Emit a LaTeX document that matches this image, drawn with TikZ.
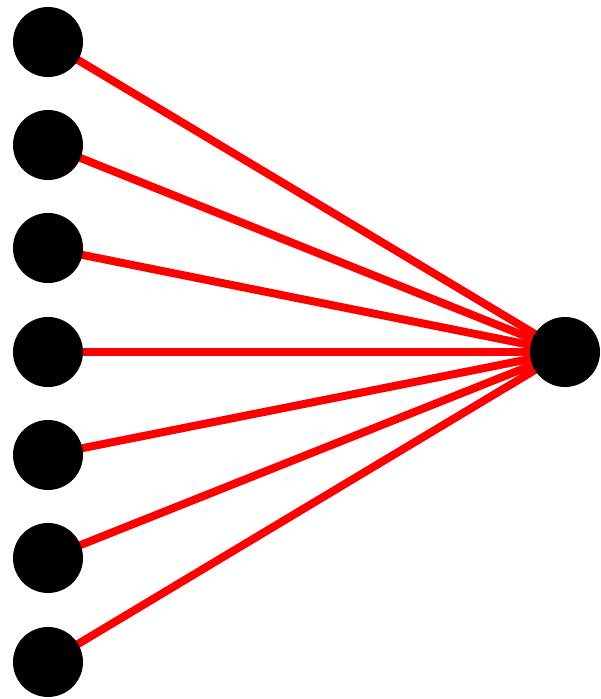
\documentclass[tikz,border=0pt]{standalone}
\usetikzlibrary{backgrounds}
\begin{document}
\begin{tikzpicture}[x=1pt,y=-1pt,
  dot/.style={circle,fill=black,inner sep=0pt,minimum size=70pt},
  link/.style={red,line width=8pt}]
\useasboundingbox (0,0) rectangle (600,699);
\node[dot] (r) at (565,352) {};
\foreach \i/\y in {1/42,2/145,3/248,4/352,5/455,6/558,7/662}{
  \node[dot] (l\i) at (48,\y) {};
  \begin{scope}[on background layer]
    \draw[link] (l\i.center) -- (r.center);
  \end{scope}
}
\end{tikzpicture}
\end{document}
